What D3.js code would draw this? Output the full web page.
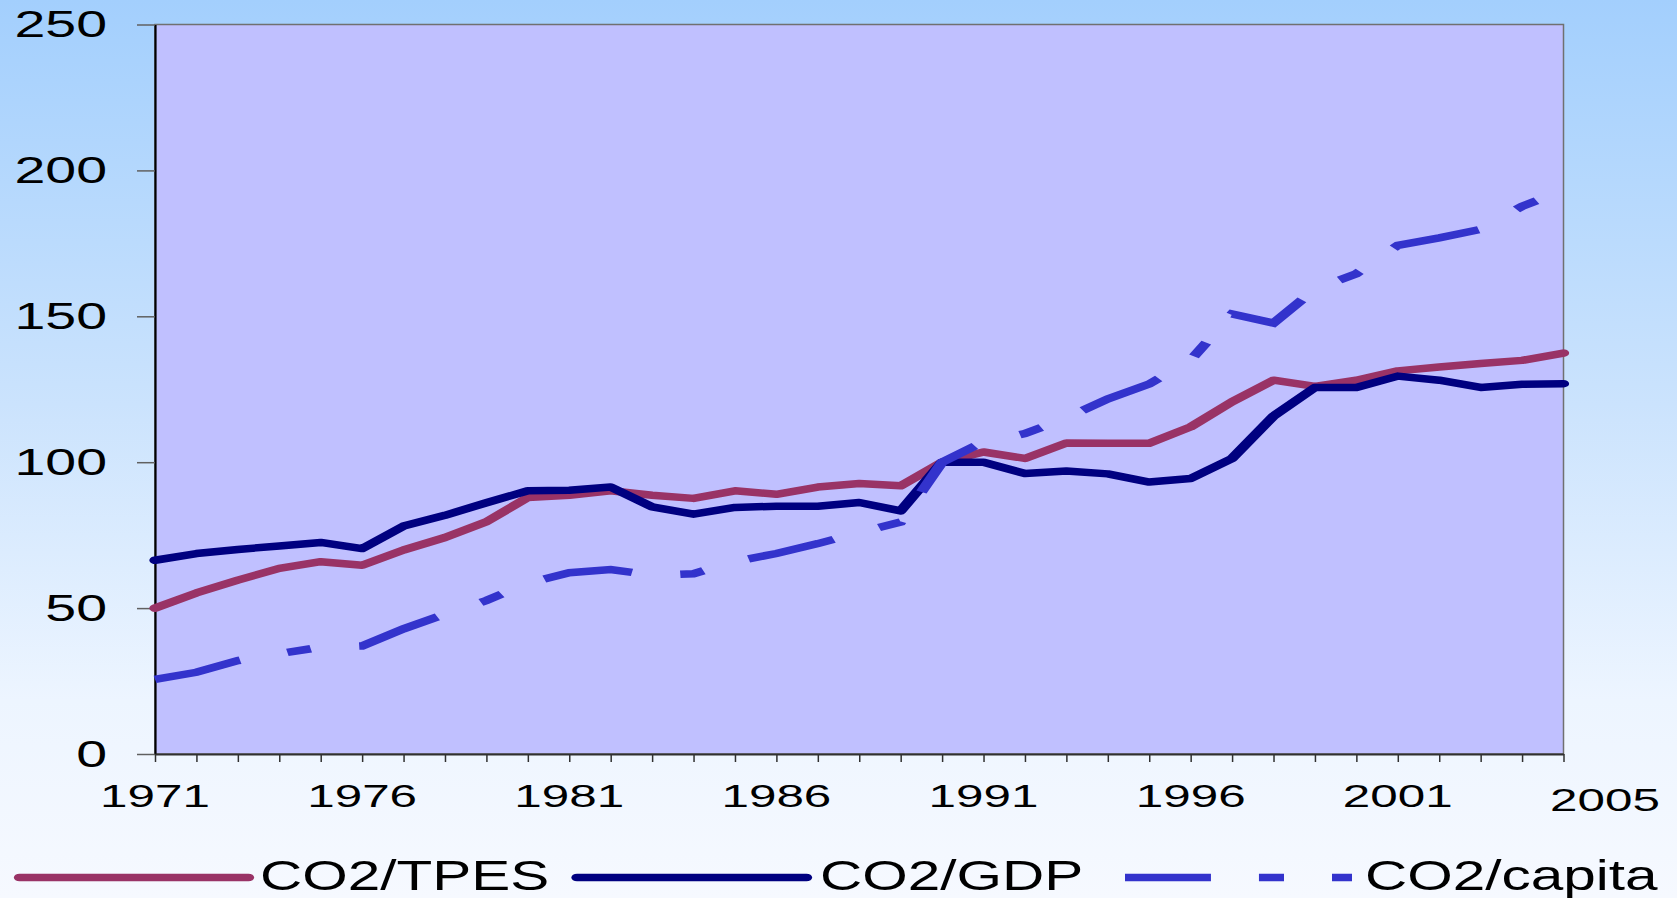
<!DOCTYPE html>
<html>
<head>
<meta charset="utf-8">
<script src="https://cdn.jsdelivr.net/npm/d3@7"></script>
<style>
  html, body { margin: 0; padding: 0; background: #ffffff; }
  svg { display: block; }
  text { font-family: "Liberation Sans", Arial, sans-serif; fill: #000; }
</style>
</head>
<body>
<svg id="chart" width="1677" height="898"></svg>
<script>
// Index values (1990 = 100) per year
const years = d3.range(1971, 2006);
const co2Tpes = [50, 55.2, 59.6, 63.6, 65.9, 64.7, 69.9, 74.2, 79.6, 87.9,
                 88.7, 90.2, 88.7, 87.6, 90.2, 89.0, 91.5, 92.7, 91.9, 100,
                 103.5, 101.3, 106.6, 106.5, 106.5, 112.1, 120.7, 128.1, 126.0, 128.1,
                 131.3, 132.6, 133.8, 134.9, 137.4];
const co2Gdp = [66.4, 68.7, 70.1, 71.3, 72.5, 70.4, 78.1, 81.8, 86.1, 90.2,
                90.4, 91.5, 84.7, 82.2, 84.5, 84.9, 84.9, 86.2, 83.3, 100,
                100, 96.1, 97.0, 96.0, 93.2, 94.4, 101.3, 115.8, 125.6, 125.6,
                129.5, 128.1, 125.6, 126.7, 126.9];
const co2Capita = [25.6, 28.0, 32.0, 34.4, 36.6, 37.0, 42.9, 47.9, 52.6, 58.6,
                   62.1, 63.2, 61.3, 61.8, 66.0, 68.7, 72.1, 75.9, 79.5, 100,
                   107, 109.8, 115.2, 121.7, 126.8, 135, 150.8, 147.7, 159.3, 164.6,
                   174.3, 176.9, 179.8, 187.7, 193.2];

const seriesNames = ["CO2/TPES", "CO2/GDP", "CO2/capita"];
const xTickLabels = ["1971", "1976", "1981", "1986", "1991", "1996", "2001", "2005"];
const yTicks = [0, 50, 100, 150, 200, 250];

const svg = d3.select("#chart");
const W = 1677, H = 898;
const plot = { left: 155, right: 1563.5, top: 24.5, bottom: 754 };
// the whole drawing is rendered with a wide horizontal aspect
const sx = 1.5;

// background gradient
const defs = svg.append("defs");
const grad = defs.append("linearGradient")
  .attr("id", "bg").attr("x1", 0).attr("y1", 0).attr("x2", 0).attr("y2", 1);
[[0, "#a3cffd"], [0.45, "#cbe3fd"], [0.78, "#edf5ff"], [1, "#f6f9ff"]]
  .forEach(([o, c]) => grad.append("stop").attr("offset", o).attr("stop-color", c));
svg.append("rect").attr("width", W).attr("height", H).attr("fill", "url(#bg)");

const x = d3.scaleLinear().domain([1971, 2005]).range([plot.left, plot.right]);
const y = d3.scaleLinear().domain([0, 250]).range([plot.bottom, plot.top]);
const step = x(1972) - x(1971);
// same scale in the unstretched space of the series layer
const xs = d3.scaleLinear().domain([1971, 2005]).range([plot.left / sx, plot.right / sx]);

// plot area
svg.append("rect")
  .attr("x", plot.left).attr("y", plot.top)
  .attr("width", plot.right - plot.left).attr("height", plot.bottom - plot.top)
  .attr("fill", "#c0c0ff").attr("stroke", "#707070").attr("stroke-width", 1.5);

// y axis ticks
const yAxis = svg.append("g")
  .attr("transform", `translate(${plot.left},0)`)
  .call(d3.axisLeft(y).tickValues(yTicks).tickSize(18).tickSizeOuter(0).tickFormat(""));
yAxis.select(".domain").attr("stroke", "#000").attr("stroke-width", 2.2);
yAxis.selectAll(".tick line").attr("stroke", "#606060").attr("stroke-width", 1.5);

// x axis ticks
const xAxis = svg.append("g")
  .attr("transform", `translate(0,${plot.bottom})`)
  .call(d3.axisBottom(x).tickValues(years).tickSize(8).tickSizeOuter(0).tickFormat(""));
xAxis.select(".domain").attr("stroke", "#303030").attr("stroke-width", 1.8);
xAxis.selectAll(".tick line").attr("stroke", "#303030").attr("stroke-width", 1.5);

// y tick labels (wide face)
svg.append("g").selectAll("text").data(yTicks).join("text")
  .attr("transform", d => `translate(107,${y(d) + 12.8}) scale(1.5,1)`)
  .attr("text-anchor", "end")
  .attr("font-size", 37)
  .text(d => d);

// x tick labels
svg.append("g").selectAll("text").data(xTickLabels).join("text")
  .attr("transform", (d, i) => {
    const last = i === xTickLabels.length - 1;
    const cx = x(+d) + (last ? step : 0);
    const by = last ? 811 : 807;
    return `translate(${cx},${by}) scale(1.62,1)`;
  })
  .attr("text-anchor", "middle")
  .attr("font-size", 30.5)
  .text(d => d);

// series lines, drawn in the unstretched layer and widened with it
const layer = svg.append("g").attr("transform", `scale(${sx},1)`);
const line = d3.line().x(d => xs(d[0])).y(d => y(d[1]));
const dashPattern = "60 32.5 16 32.5";
const styles = [
  { color: "#993366", dash: null },
  { color: "#000080", dash: null },
  { color: "#3333cc", dash: dashPattern }
];
const seriesValues = [co2Tpes, co2Gdp, co2Capita];

seriesValues.forEach((vals, i) => {
  const st = styles[i];
  const p = layer.append("path")
    .datum(years.map((yr, j) => [yr, vals[j]]))
    .attr("d", line)
    .attr("fill", "none")
    .attr("stroke", st.color)
    .attr("stroke-width", 7.5);
  if (st.dash) {
    p.attr("stroke-dasharray", st.dash).attr("stroke-linecap", "butt").attr("stroke-linejoin", "miter");
  } else {
    p.attr("stroke-linecap", "round").attr("stroke-linejoin", "round");
  }
});

// legend
const legendItems = [
  { x0: 19.5, x1: 248.5, tx: 260 },
  { x0: 577, x1: 806.5, tx: 820 },
  { x0: 1125, x1: 1352, tx: 1365 }
];
const legendLines = svg.append("g").attr("transform", `scale(${sx},1)`);
const legend = svg.append("g");
legendItems.forEach((it, i) => {
  const st = styles[i];
  const l = legendLines.append("line")
    .attr("x1", it.x0 / sx).attr("x2", it.x1 / sx)
    .attr("y1", 877.5).attr("y2", 877.5)
    .attr("stroke", st.color).attr("stroke-width", 7.5);
  if (st.dash) l.attr("stroke-dasharray", "57.3 32 16.7 32").attr("stroke-linecap", "butt");
  else l.attr("stroke-linecap", "round");
  legend.append("text")
    .attr("transform", `translate(${it.tx},890) scale(1.36,1)`)
    .attr("font-size", 43)
    .text(seriesNames[i]);
});
</script>
</body>
</html>
